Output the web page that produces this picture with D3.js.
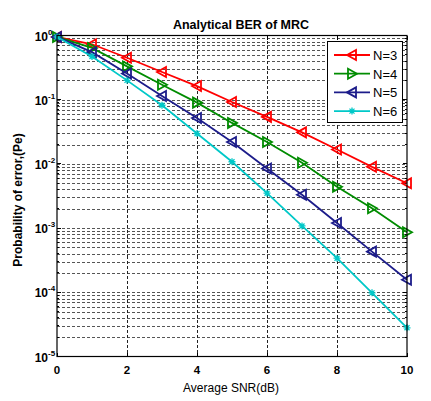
<!DOCTYPE html>
<html><head><meta charset="utf-8">
<script src="https://cdn.jsdelivr.net/npm/d3@7"></script>
<style>body{margin:0;background:#fff}svg{display:block;font-family:"Liberation Sans",Arial,sans-serif}</style>
</head><body>
<svg id="c" width="431" height="401"></svg>
<script>
const snr = [0,1,2,3,4,5,6,7,8,9,10];
const seriesNames = ["N=3","N=4","N=5","N=6"];
const n3 = [0.95,0.73,0.45,0.27,0.163,0.092,0.054,0.031,0.0168,0.009,0.005];
const n4 = [0.95,0.64,0.33,0.171,0.09,0.0435,0.022,0.0104,0.0044,0.00204,0.00086];
const n5 = [0.95,0.55,0.255,0.114,0.052,0.022,0.0085,0.0033,0.0012,0.00043,0.000157];
const n6 = [0.95,0.47,0.2,0.082,0.0297,0.0108,0.0035,0.00108,0.00034,0.000098,0.000028];
const xTicks = [0,2,4,6,8,10];
const yTickExps = [0,-1,-2,-3,-4,-5];
const colors = ["#ff0000","#008c00","#1c1c8a","#00c8c8"];
const markers = ["left","right","left","star"];
const seriesValues = [n3,n4,n5,n6];

const svg = d3.select("#c");
const L=57, R=407, T=35.5, B=356.5;
const x = d3.scaleLinear().domain([0,10]).range([L,R]);
const y = d3.scaleLog().domain([1e-5,1]).range([B,T]);

// grid
const g = svg.append("g").attr("shape-rendering","crispEdges");
const minorVals = [];
for (let e=-5; e<0; e++) for (let m=1; m<10; m++) minorVals.push(m*Math.pow(10,e));
g.selectAll("line.hy").data(minorVals.filter(v=>v>1e-5)).enter().append("line")
  .attr("x1",L).attr("x2",R).attr("y1",d=>Math.round(y(d))+0.5).attr("y2",d=>Math.round(y(d))+0.5)
  .attr("stroke","#555").attr("stroke-width",1).attr("stroke-dasharray","3,2");
g.selectAll("line.vx").data(xTicks.filter(v=>v>0&&v<10)).enter().append("line")
  .attr("y1",T).attr("y2",B).attr("x1",d=>Math.round(x(d))+0.5).attr("x2",d=>Math.round(x(d))+0.5)
  .attr("stroke","#222").attr("stroke-width",1).attr("stroke-dasharray","3,2");

// ticks (inward, all sides)
const tk = svg.append("g").attr("stroke","#000").attr("shape-rendering","crispEdges");
xTicks.forEach(v=>{
  tk.append("line").attr("x1",x(v)).attr("x2",x(v)).attr("y1",B).attr("y2",B-4);
  tk.append("line").attr("x1",x(v)).attr("x2",x(v)).attr("y1",T).attr("y2",T+4);
});
minorVals.forEach(v=>{
  const len = (Math.abs(Math.log10(v)-Math.round(Math.log10(v)))<1e-9)?4:2;
  tk.append("line").attr("x1",L).attr("x2",L+len).attr("y1",y(v)).attr("y2",y(v));
  tk.append("line").attr("x1",R).attr("x2",R-len).attr("y1",y(v)).attr("y2",y(v));
});

// series lines
const line = d3.line().x((d,i)=>x(snr[i])).y(d=>y(d));
function markerPath(type){
  if(type==="left") return "M-5,0L4,-5L4,5Z";
  if(type==="right") return "M5,0L-4,-5L-4,5Z";
  return "M-3.5,0L3.5,0M0,-3.5L0,3.5M-2.5,-2.5L2.5,2.5M-2.5,2.5L2.5,-2.5";
}
seriesValues.forEach((vals,k)=>{
  const sg = svg.append("g");
  sg.append("path").datum(vals).attr("d",line).attr("fill","none")
    .attr("stroke",colors[k]).attr("stroke-width",1.8);
  sg.selectAll("path.m").data(vals).enter().append("path")
    .attr("transform",(d,i)=>`translate(${x(snr[i])},${y(d)})`)
    .attr("d",markerPath(markers[k])).attr("fill","none")
    .attr("stroke",colors[k]).attr("stroke-width",markers[k]==="star"?1.3:1.8);
});

// box
svg.append("rect").attr("x",L).attr("y",T).attr("width",R-L).attr("height",B-T)
  .attr("fill","none").attr("stroke","#000").attr("stroke-width",1.2);

// x tick labels
svg.selectAll("text.xt").data(xTicks).enter().append("text")
  .attr("x",d=>x(d)).attr("y",374).attr("text-anchor","middle")
  .attr("font-size",11.5).attr("font-weight","bold").text(d=>d);
// y tick labels
yTickExps.forEach(e=>{
  const t = svg.append("text").attr("class","yt").attr("x",47).attr("y",y(Math.pow(10,e))+5)
    .attr("text-anchor","end").attr("font-size",12).attr("font-weight","bold");
  t.append("tspan").text("10");
  t.append("tspan").attr("font-size",8).attr("dy",-6).text(e);
});
svg.selectAll("text.yt").each(function(){
  const sup = this.childNodes[1].getComputedTextLength();
  d3.select(this).attr("x",47+sup+1);
});

// titles
svg.append("text").attr("x",241).attr("y",29).attr("text-anchor","middle")
  .attr("font-size",12.5).attr("font-weight","bold").text("Analytical BER of MRC");
svg.append("text").attr("x",231).attr("y",392).attr("text-anchor","middle")
  .attr("font-size",12).text("Average SNR(dB)");
svg.append("text").attr("transform","translate(22,200) rotate(-90)").attr("text-anchor","middle")
  .attr("font-size",12).attr("font-weight","bold").text("Probability of error,(Pe)");

// legend
const lg = svg.append("g");
lg.append("rect").attr("x",327.5).attr("y",41.5).attr("width",75).attr("height",81)
  .attr("fill","#fff").attr("stroke","#000").attr("stroke-width",1);
seriesNames.forEach((nm,k)=>{
  const yy = 55 + k*18.7;
  lg.append("line").attr("x1",334).attr("x2",370).attr("y1",yy).attr("y2",yy)
    .attr("stroke",colors[k]).attr("stroke-width",1.8);
  lg.append("path").attr("transform",`translate(352,${yy})`).attr("d",markerPath(markers[k]))
    .attr("fill","none").attr("stroke",colors[k]).attr("stroke-width",markers[k]==="star"?1.3:1.8);
  lg.append("text").attr("x",373).attr("y",yy+5).attr("font-size",13).text(nm);
});
</script>
</body></html>
